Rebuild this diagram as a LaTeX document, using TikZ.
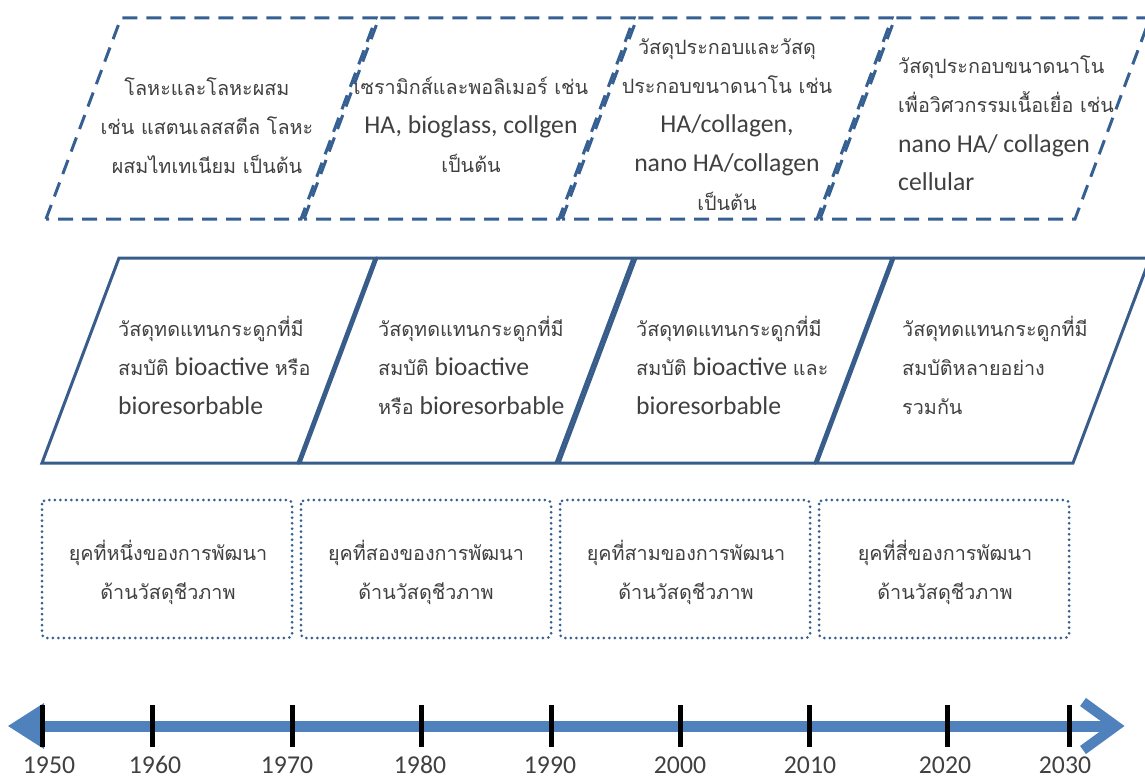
\documentclass[tikz,border=0pt]{standalone}
\usepackage{fontspec}
\setmainfont{Carlito}
\newfontfamily\thaifont[Script=Thai,Scale=0.77]{Loma}
\newcommand{\tx}[1]{{\thaifont #1}}
\usepackage{tikz}
\usetikzlibrary{calc}
\definecolor{dashblue}{RGB}{54,96,146}
\definecolor{lineblue}{RGB}{56,93,138}
\definecolor{axisblue}{RGB}{79,129,189}
\definecolor{txtgray}{RGB}{64,64,64}
\tikzstyle{matbox} = [draw=dashblue,line width=3pt,dash pattern=on 15pt off 9pt]
\tikzstyle{propbox} = [draw=lineblue,line width=3pt,line join=miter]
\tikzstyle{erabox} = [draw=dashblue,line width=3pt,line cap=round,dash pattern=on 0pt off 5.5pt,rounded corners=4pt]
\tikzstyle{txt} = [text=txtgray,inner sep=0pt,font=\fontsize{25.7}{39}\selectfont]
\tikzstyle{axis} = [draw=axisblue,line width=11pt]
\tikzstyle{tick} = [draw=black,line width=5pt]

\begin{document}
\begin{tikzpicture}[x=1pt,y=-1pt]

\useasboundingbox (0,0) rectangle (1145,778);

% Draw materials (top row), base = last line

    \draw[matbox] (46,219) -- (121,18) -- (376,18) -- (301,219) -- cycle;
    \draw[matbox] (304,219) -- (379,18) -- (634,18) -- (559,219) -- cycle;
    \draw[matbox] (562,219) -- (637,18) -- (892,18) -- (817,219) -- cycle;
    \draw[matbox] (820,219) -- (895,18) -- (1150,18) -- (1075,219) -- cycle;
    \node[txt,align=center,anchor=base] at (207,174) (mat1) {\tx{โลหะและโลหะผสม}\\ \tx{เช่น แสตนเลสสตีล โลหะ}\\ \tx{ผสมไทเทเนียม เป็นต้น}};
    \node[txt,align=center,anchor=base] at (471,173) (mat2) {\tx{เซรามิกส์และพอลิเมอร์ เช่น}\\ HA, bioglass, collgen\\ \tx{เป็นต้น}};
    \node[txt,align=center,anchor=base] at (727,211) (mat3) {\tx{วัสดุประกอบและวัสดุ}\\ \tx{ประกอบขนาดนาโน เช่น}\\ HA/collagen,\\ nano HA/collagen\\ \tx{เป็นต้น}};
    \node[txt,align=left,anchor=base west] at (898,191) (mat4) {\tx{วัสดุประกอบขนาดนาโน}\\ \tx{เพื่อวิศวกรรมเนื้อเยื่อ เช่น}\\ nano HA/ collagen\\ cellular};

% Draw properties (middle row)

    \draw[propbox] (42,463) -- (119,258) -- (375,258) -- (298,463) -- cycle;
    \draw[propbox] (300,463) -- (377,258) -- (633,258) -- (556,463) -- cycle;
    \draw[propbox] (559,463) -- (636,258) -- (892,258) -- (815,463) -- cycle;
    \draw[propbox] (817,463) -- (894,258) -- (1150,258) -- (1073,463) -- cycle;
    \node[txt,align=left,anchor=base west] at (118,414) (prop1) {\tx{วัสดุทดแทนกระดูกที่มี}\\ \tx{สมบัติ} bioactive \tx{หรือ}\\ bioresorbable};
    \node[txt,align=left,anchor=base west] at (378,414) (prop2) {\tx{วัสดุทดแทนกระดูกที่มี}\\ \tx{สมบัติ} bioactive\\ \tx{หรือ} bioresorbable};
    \node[txt,align=left,anchor=base west] at (636,414) (prop3) {\tx{วัสดุทดแทนกระดูกที่มี}\\ \tx{สมบัติ} bioactive \tx{และ}\\ bioresorbable};
    \node[txt,align=left,anchor=base west] at (902,414) (prop4) {\tx{วัสดุทดแทนกระดูกที่มี}\\ \tx{สมบัติหลายอย่าง}\\ \tx{รวมกัน}};

% Draw eras (bottom row)

    \draw[erabox] (42,500) rectangle (292,638);
    \draw[erabox] (301,500) rectangle (551,638);
    \draw[erabox] (560,500) rectangle (810,638);
    \draw[erabox] (819,500) rectangle (1069,638);
    \node[txt,align=center,anchor=base] at (168,599) (era1) {\tx{ยุคที่หนึ่งของการพัฒนา}\\ \tx{ด้านวัสดุชีวภาพ}};
    \node[txt,align=center,anchor=base] at (426,599) (era2) {\tx{ยุคที่สองของการพัฒนา}\\ \tx{ด้านวัสดุชีวภาพ}};
    \node[txt,align=center,anchor=base] at (686,599) (era3) {\tx{ยุคที่สามของการพัฒนา}\\ \tx{ด้านวัสดุชีวภาพ}};
    \node[txt,align=center,anchor=base] at (945,599) (era4) {\tx{ยุคที่สี่ของการพัฒนา}\\ \tx{ด้านวัสดุชีวภาพ}};

% Draw timeline

    \coordinate (tl) at (8,726);
    \coordinate (tr) at (1116,726);
    \draw[axis] ([xshift=30pt]tl) -- ([xshift=-6pt]tr);
    \fill[axisblue] (tl) -- ([shift={(36pt,-23pt)}]tl) -- ([shift={(36pt,23pt)}]tl) -- cycle;
    \draw[axisblue,line width=10pt,line join=miter] ([shift={(-33pt,-24pt)}]tr) -- (tr) -- ([shift={(-33pt,24pt)}]tr);

    \draw[tick] (42,705) -- (42,747);
    \draw[tick] (152,705) -- (152,747);
    \draw[tick] (292,705) -- (292,747);
    \draw[tick] (421,705) -- (421,747);
    \draw[tick] (551,705) -- (551,747);
    \draw[tick] (680,705) -- (680,747);
    \draw[tick] (809,705) -- (809,747);
    \draw[tick] (947,705) -- (947,747);
    \draw[tick] (1069,705) -- (1069,747);
    \node[txt,anchor=base] at (49,773) (y1950) {1950};
    \node[txt,anchor=base] at (155,773) (y1960) {1960};
    \node[txt,anchor=base] at (287,773) (y1970) {1970};
    \node[txt,anchor=base] at (420,773) (y1980) {1980};
    \node[txt,anchor=base] at (550,773) (y1990) {1990};
    \node[txt,anchor=base] at (680,773) (y2000) {2000};
    \node[txt,anchor=base] at (810,773) (y2010) {2010};
    \node[txt,anchor=base] at (945,773) (y2020) {2020};
    \node[txt,anchor=base] at (1065,773) (y2030) {2030};

\end{tikzpicture}
\end{document}
